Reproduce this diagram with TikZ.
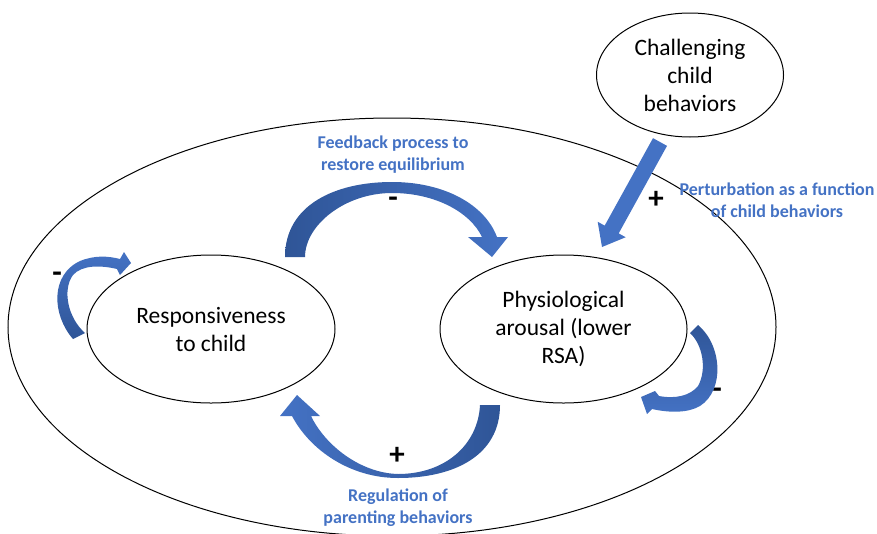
\documentclass[tikz,border=0pt]{standalone}
\usepackage{fontspec}
\setmainfont{Carlito}
\usetikzlibrary{shapes.geometric,calc}
\definecolor{dkblue}{HTML}{2F5597}
\definecolor{ltblue}{HTML}{4472C4}
\definecolor{lblblue}{HTML}{4472C4}
\begin{document}
\begin{tikzpicture}[x=1pt,y=-1pt,
  oval/.style={draw=black,line width=1pt,ellipse,align=center,
    font=\fontsize{23.5}{28}\selectfont,inner sep=0pt},
  lbl/.style={text=lblblue,font=\bfseries\fontsize{18}{22}\selectfont,align=center},
  sgn/.style={font=\bfseries\fontsize{31}{31}\selectfont,inner sep=0pt},
  arrowfill/.style={fill=ltblue},
]
\useasboundingbox (0,0) rectangle (877,533);
\clip (0,0) rectangle (877,533);

% nodes
\node[oval,minimum width=768pt,minimum height=418pt] (outer) at (392,327) {};
\node[oval,minimum width=187pt,minimum height=124pt] (chal) at (690,75) {Challenging\\child\\behaviors};
\node[oval,minimum width=248pt,minimum height=148pt] (resp) at (211,329) {Responsiveness\\to child};
\node[oval,minimum width=247pt,minimum height=148pt] (phys) at (563.5,329) {Physiological\\arousal (lower\\RSA)};

% labels
\node[lbl] (fb) at (393,155) {Feedback process to\\restore equilibrium};
\node[lbl] (pert) at (777,200) {Perturbation as a function\\of child behaviors};
\node[lbl] (reg) at (398,508) {Regulation of\\parenting behaviors};

% signs
\node[sgn] (s1) at (393,202) {-};
\node[sgn] (s2) at (656,200) {+};
\node[sgn] (s3) at (57,277) {-};
\node[sgn] (s4) at (717,393) {-};
\node[sgn] (s5) at (397,456) {+};

% straight arrow from challenging behaviors
\coordinate (T) at (660,142);
\coordinate (P) at (602,247);
\coordinate (H) at ($(P)!20pt!(T)$);
\fill[arrowfill] ($(T)!8pt!90:(P)$) -- ($(H)!8pt!90:(P)$) -- ($(H)!16pt!90:(P)$)
  -- (P) -- ($(H)!16pt!-90:(P)$) -- ($(H)!8pt!-90:(P)$) -- ($(T)!8pt!-90:(P)$) -- cycle;

% top curved arrow (feedback)
\shade[left color=dkblue,right color=ltblue]
  (285,257) .. controls (285,205) and (335,182) .. (392,182)
  .. controls (445,182) and (485,205) .. (497,237)
  -- (508,237) -- (492,257) -- (468,237) -- (482,237)
  .. controls (470,212) and (435,193) .. (392,193)
  .. controls (345,193) and (305,225) .. (305,257) -- cycle;

% bottom curved arrow (regulation)
\shade[left color=ltblue,right color=dkblue]
  (500,405) .. controls (500,455) and (455,478) .. (398,478)
  .. controls (350,478) and (310,450) .. (292,416)
  -- (280,416) -- (297,395) -- (320,416) -- (311,416)
  .. controls (325,445) and (360,473) .. (398,474)
  .. controls (445,474) and (478,445) .. (480,405) -- cycle;

% left small arrow
\shade[top color=ltblue,bottom color=dkblue]
  (73,339) .. controls (52,315) and (50,275) .. (80,261)
  .. controls (95,255) and (108,256) .. (120,259)
  -- (124,252) -- (131,263) -- (120,275) -- (117,269)
  .. controls (100,265) and (82,265) .. (73,275)
  .. controls (62,290) and (68,318) .. (85,333) -- cycle;

% right small arrow
\shade[top color=dkblue,bottom color=ltblue]
  (698,325) .. controls (722,345) and (725,390) .. (700,406)
  .. controls (688,413) and (670,413) .. (652,409)
  -- (647,414) -- (641,397) -- (655,391) -- (659,396)
  .. controls (675,399) and (690,396) .. (698,386)
  .. controls (707,370) and (703,345) .. (690,333) -- cycle;
\end{tikzpicture}
\end{document}
